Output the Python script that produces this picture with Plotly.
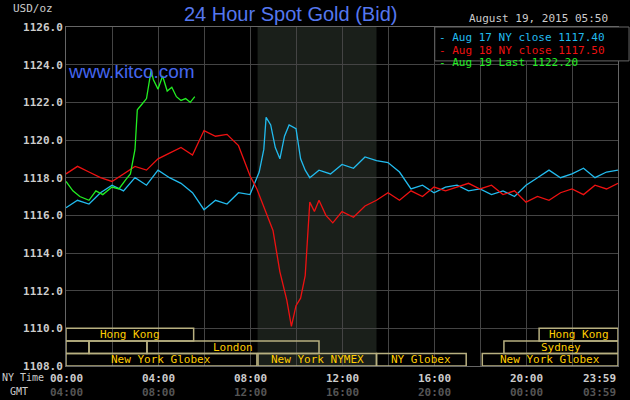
import plotly.graph_objects as go

# hours since 00:00 NY time
aug17_t = [0, 0.5, 1, 1.5, 2, 2.5, 3, 3.5, 4, 4.5, 5, 5.5, 6, 6.5, 7, 7.5, 8, 8.4, 8.6, 8.7, 8.9, 9.1, 9.3, 9.5, 9.7, 10.0, 10.2, 10.4, 10.6, 11, 11.5, 12, 12.5, 13, 13.5, 14, 14.5, 15, 15.5, 16, 16.5, 17, 17.5, 18, 18.5, 19, 19.5, 20, 20.5, 21, 21.5, 22, 22.5, 23, 23.5, 24]
aug17_v = [1116.4, 1116.8, 1116.6, 1117.2, 1117.6, 1117.3, 1118.0, 1117.6, 1118.4, 1118.0, 1117.7, 1117.2, 1116.3, 1116.8, 1116.6, 1117.2, 1117.1, 1118.3, 1119.5, 1121.2, 1120.8, 1119.6, 1119.0, 1120.2, 1120.8, 1120.6, 1119.0, 1118.4, 1118.0, 1118.4, 1118.2, 1118.7, 1118.5, 1119.1, 1118.9, 1118.8, 1118.3, 1117.4, 1117.6, 1117.2, 1117.5, 1117.6, 1117.3, 1117.4, 1117.1, 1117.3, 1117.0, 1117.6, 1118.0, 1118.4, 1118.0, 1118.2, 1118.5, 1118.0, 1118.3, 1118.4]

aug18_t = [0, 0.5, 1, 1.5, 2, 2.5, 3, 3.5, 4, 4.5, 5, 5.5, 6, 6.5, 7, 7.5, 8, 8.3, 8.6, 9.0, 9.3, 9.6, 9.8, 10.0, 10.2, 10.4, 10.6, 10.8, 11, 11.3, 11.6, 12, 12.5, 13, 13.5, 14, 14.5, 15, 15.5, 16, 16.5, 17, 17.5, 18, 18.5, 19, 19.5, 20, 20.5, 21, 21.5, 22, 22.5, 23, 23.5, 24]
aug18_v = [1118.2, 1118.6, 1118.3, 1118.0, 1117.8, 1118.2, 1118.6, 1118.4, 1119.0, 1119.3, 1119.6, 1119.2, 1120.5, 1120.2, 1120.3, 1119.7, 1118.1, 1117.4, 1116.5, 1115.2, 1113.0, 1111.5, 1110.1, 1111.2, 1111.6, 1112.8, 1116.7, 1116.2, 1116.8, 1116.0, 1115.6, 1116.2, 1115.9, 1116.5, 1116.8, 1117.2, 1116.8, 1117.3, 1117.0, 1117.5, 1117.3, 1117.5, 1117.7, 1117.4, 1117.6, 1117.1, 1117.3, 1116.7, 1117.0, 1116.8, 1117.2, 1117.4, 1117.1, 1117.6, 1117.4, 1117.7]

aug19_t = [0, 0.3, 0.6, 1.0, 1.3, 1.6, 2.0, 2.3, 2.6, 2.8, 3.0, 3.1, 3.3, 3.5, 3.7, 3.8, 4.0, 4.2, 4.4, 4.6, 4.8, 5.0, 5.2, 5.4, 5.6]
aug19_v = [1117.8, 1117.3, 1117.0, 1116.8, 1117.3, 1117.1, 1117.5, 1117.4, 1117.9, 1118.2, 1119.5, 1121.6, 1121.9, 1122.2, 1123.7, 1123.2, 1122.7, 1123.4, 1122.6, 1122.8, 1122.3, 1122.1, 1122.2, 1122.0, 1122.3]

y_ticks = [1108, 1110, 1112, 1114, 1116, 1118, 1120, 1122, 1124, 1126]
ny_labels = ["00:00", "04:00", "08:00", "12:00", "16:00", "20:00", "23:59"]
gmt_labels = ["04:00", "08:00", "12:00", "16:00", "20:00", "00:00", "03:59"]
label_hours = [0, 4, 8, 12, 16, 20, 24]

# market sessions: (row, start, end, label)
sessions = [
    (0, 0, 5.55, "Hong Kong"), (0, 20.57, 24, "Hong Kong"),
    (1, 0, 1.0, ""), (1, 1.0, 3.52, ""), (1, 3.52, 11.0, "London"), (1, 19.04, 24, "Sydney"),
    (2, 0, 8.3, "New York Globex"), (2, 8.35, 13.5, "New York NYMEX"),
    (2, 13.5, 17.4, "NY Globex"), (2, 18.1, 24, "New York Globex"),
]

mono = "DejaVu Sans Mono"
fig = go.Figure()
fig.add_trace(go.Scatter(x=aug17_t, y=aug17_v, mode="lines", line=dict(color="#22bbee", width=1.3)))
fig.add_trace(go.Scatter(x=aug18_t, y=aug18_v, mode="lines", line=dict(color="#ee1111", width=1.3)))
fig.add_trace(go.Scatter(x=aug19_t, y=aug19_v, mode="lines", line=dict(color="#22ee22", width=1.3)))

# shaded NYMEX hours
fig.add_vrect(x0=8.33, x1=13.5, fillcolor="#1a1f1a", line_width=0, layer="below")

row_h = 2 / 3
for row, s, e, name in sessions:
    top = 1110 - row * row_h
    fig.add_shape(type="rect", x0=s, x1=e, y0=top - row_h, y1=top,
                  line=dict(color="#b8b080", width=1.5), fillcolor="rgba(0,0,0,0)")
    if name:
        fig.add_annotation(x=(s + e) / 2, y=top - row_h / 2, text=name, showarrow=False,
                           font=dict(family=mono, size=11, color="#ffcc00"))

for h, ny, gmt in zip(label_hours, ny_labels, gmt_labels):
    xa = "right" if h == 24 else "center"
    fig.add_annotation(x=h, y=-0.012, yref="paper", yanchor="top", xanchor=xa, text="<b>%s</b>" % ny,
                       showarrow=False, font=dict(family=mono, size=11, color="#cccccc"))
    fig.add_annotation(x=h, y=-0.052, yref="paper", yanchor="top", xanchor=xa, text="<b>%s</b>" % gmt,
                       showarrow=False, font=dict(family=mono, size=11, color="#555555"))

fig.add_annotation(x=0, y=-0.012, xref="paper", yref="paper", xshift=-20, yanchor="top", xanchor="right",
                   text="NY Time", showarrow=False, font=dict(family=mono, size=10, color="#cccccc"))
fig.add_annotation(x=0, y=-0.052, xref="paper", yref="paper", xshift=-36, yanchor="top", xanchor="right",
                   text="GMT", showarrow=False, font=dict(family=mono, size=10, color="#cccccc"))

# header text
fig.add_annotation(x=0.406, y=1.078, xref="paper", yref="paper", text="24 Hour Spot Gold (Bid)", showarrow=False,
                   font=dict(family="Liberation Sans", size=20, color="#5577ee"))
fig.add_annotation(x=-0.1, y=1.079, xref="paper", yref="paper", xanchor="left", text="USD/oz", showarrow=False,
                   font=dict(family=mono, size=11, color="#cccccc"))
fig.add_annotation(x=0.985, y=1.05, xref="paper", yref="paper", xanchor="right", text="August 19, 2015 05:50",
                   showarrow=False, font=dict(family=mono, size=11, color="#cccccc"))
fig.add_annotation(x=0.0, y=0.905, xref="paper", yref="paper", xanchor="left", text="www.kitco.com",
                   showarrow=False, font=dict(family="Liberation Sans", size=19, color="#4466ee"))

fig.add_shape(type="rect", xref="paper", yref="paper", x0=0.668, x1=1.02, y0=0.9, y1=1.0,
              line=dict(color="#666666", width=1), fillcolor="black")
legend_rows = [("#22bbee", "Aug 17 NY close 1117.40"), ("#ee1111", "Aug 18 NY close 1117.50"),
               ("#22ee22", "Aug 19 Last 1122.20")]
for i, (c, t) in enumerate(legend_rows):
    fig.add_annotation(x=0.672, y=0.993 - i * 0.036, xref="paper", yref="paper", xanchor="left",
                       text="- " + t, showarrow=False, font=dict(family=mono, size=11, color=c))

fig.update_layout(
    width=630, height=400, margin=dict(l=66, r=12, t=27, b=34),
    paper_bgcolor="black", plot_bgcolor="black", showlegend=False,
    xaxis=dict(range=[0, 24], dtick=2, showticklabels=False, gridcolor="#444444", zeroline=False,
               showline=True, linecolor="#666666", mirror=True),
    yaxis=dict(range=[1108, 1126], tickvals=y_ticks, ticktext=["<b>%.1f</b>" % v for v in y_ticks],
               gridcolor="#444444", zeroline=False, showline=True, linecolor="#666666", mirror=True,
               tickfont=dict(family=mono, size=11, color="#cccccc")),
)
fig.write_html("out.html", config={"displayModeBar": False},
               post_script="document.body.style.margin='0';")
